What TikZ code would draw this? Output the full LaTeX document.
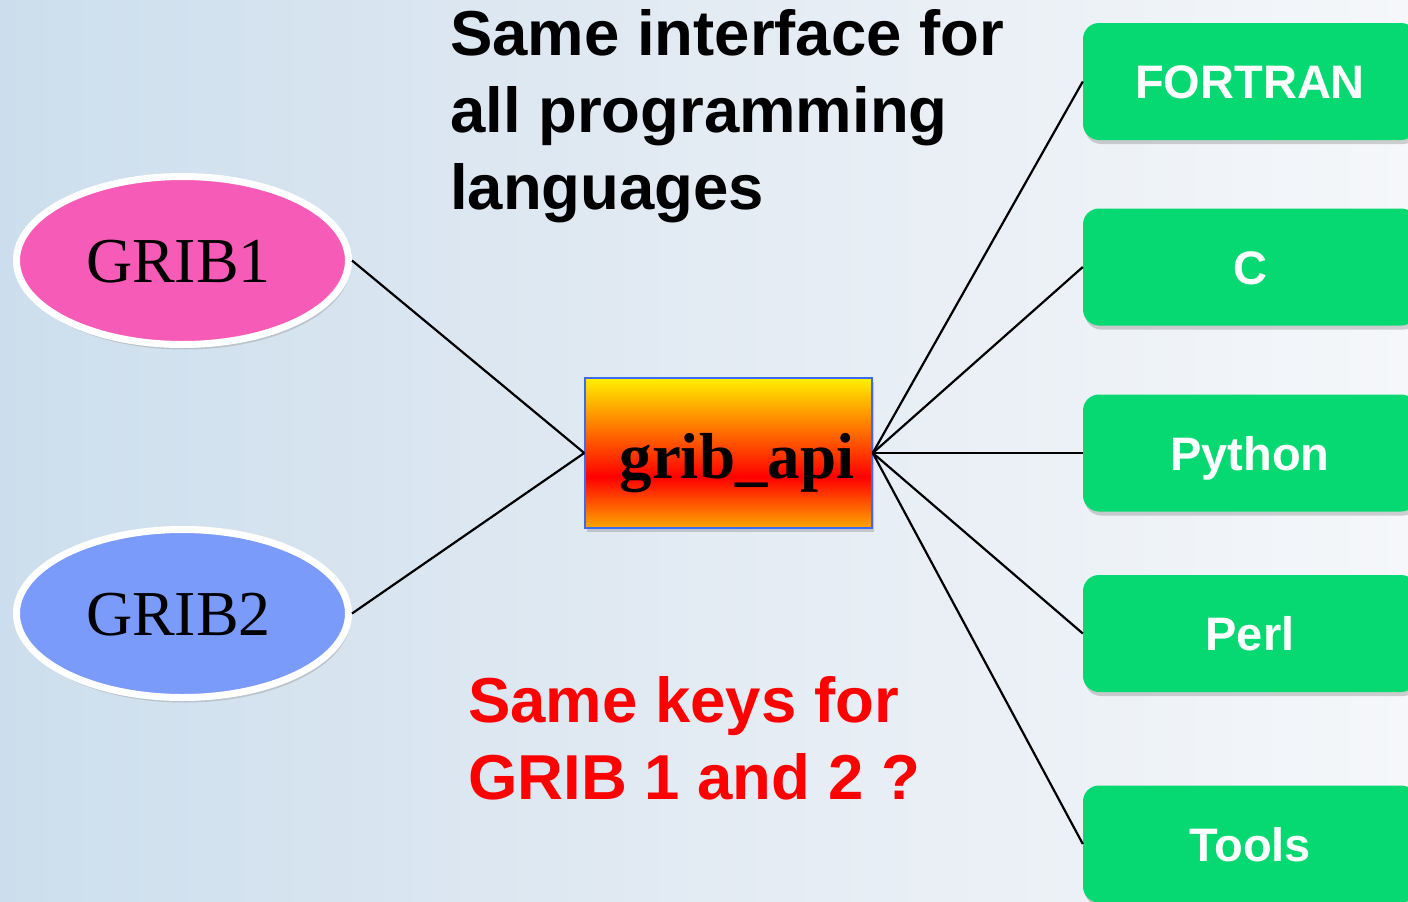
\documentclass[tikz,border=0pt]{standalone}
\usepackage{fontspec}
\setmainfont{Liberation Serif}
\newfontfamily\arialf{Liberation Sans}
\usetikzlibrary{shapes.geometric,shadows}
\definecolor{skyL}{HTML}{CCDEED}
\definecolor{skyM}{HTML}{E3EBF3}
\definecolor{skyR}{HTML}{F5F7FA}
\definecolor{pinkE}{HTML}{F75BB8}
\definecolor{blueE}{HTML}{7A9BFA}
\definecolor{greenB}{RGB}{6,216,114}
\definecolor{boxBorder}{HTML}{3A6BF5}
\definecolor{gold}{HTML}{FFF000}
\definecolor{orng}{HTML}{FFA800}
\pgfdeclareverticalshading{apishade}{100bp}{color(0bp)=(orng); color(25bp)=(orng); color(42bp)=(red); color(75bp)=(gold); color(100bp)=(gold)}
\begin{document}
\begin{tikzpicture}[x=1pt,y=-1pt,
  ell/.style={ellipse, draw=white, line width=7pt, minimum width=332pt,
    minimum height=168pt, inner sep=0pt,
    font=\fontsize{64}{64}\selectfont, text height=43pt, text depth=0pt,
    drop shadow={opacity=0.3, shadow xshift=2pt, shadow yshift=-5pt}},
  lang/.style={rectangle, rounded corners=16pt, fill=greenB, minimum width=334pt,
    minimum height=117pt, inner sep=0pt, text=white,
    font=\arialf\bfseries\fontsize{47}{47}\selectfont, text height=34pt, text depth=0pt,
    drop shadow={opacity=0.35, shadow xshift=2pt, shadow yshift=-4pt}},
  core/.style={rectangle, draw=boxBorder, line width=1.5pt, minimum width=287pt,
    minimum height=150pt, inner sep=0pt, shading=apishade,
    font=\bfseries\fontsize{65}{65}\selectfont, text height=50pt, text depth=0pt,
    drop shadow={opacity=0.35, shadow xshift=2pt, shadow yshift=-4pt}},
  head/.style={anchor=north west, inner sep=0pt, align=left,
    font=\arialf\bfseries\fontsize{63.5}{77}\selectfont},
  link/.style={draw=black, line width=2.2pt}
]
\useasboundingbox (0,0) rectangle (1408,902);
\clip (0,0) rectangle (1408,902);
\fill[left color=skyL, right color=skyR, middle color=skyM] (0,0) rectangle (1408,902);

\node[ell, fill=pinkE] (g1) at (182.5,260.5) {GRIB1\kern8pt};
\node[ell, fill=blueE] (g2) at (182.5,613.5) {GRIB2\kern8pt};

\node[core] (api) at (728.5,453) {\kern17pt grib\_api};

\node[lang] (fortran) at (1250,81.5) {FORTRAN};
\node[lang] (c) at (1250,267) {C};
\node[lang] (python) at (1250,453) {Python};
\node[lang] (perl) at (1250,633.5) {Perl};
\node[lang] (tools) at (1250,844) {Tools};

\draw[link] (g1.east) -- (api.west);
\draw[link] (g2.east) -- (api.west);
\foreach \n in {fortran,c,python,perl,tools}
  \draw[link] (api.east) -- (\n.west);

\node[head, text=black] (t1) at (450,9) {Same interface for\\all programming\\languages};
\node[head, text=red] (t2) at (468,676) {Same keys for\\GRIB 1 and 2 ?};
\end{tikzpicture}
\end{document}
